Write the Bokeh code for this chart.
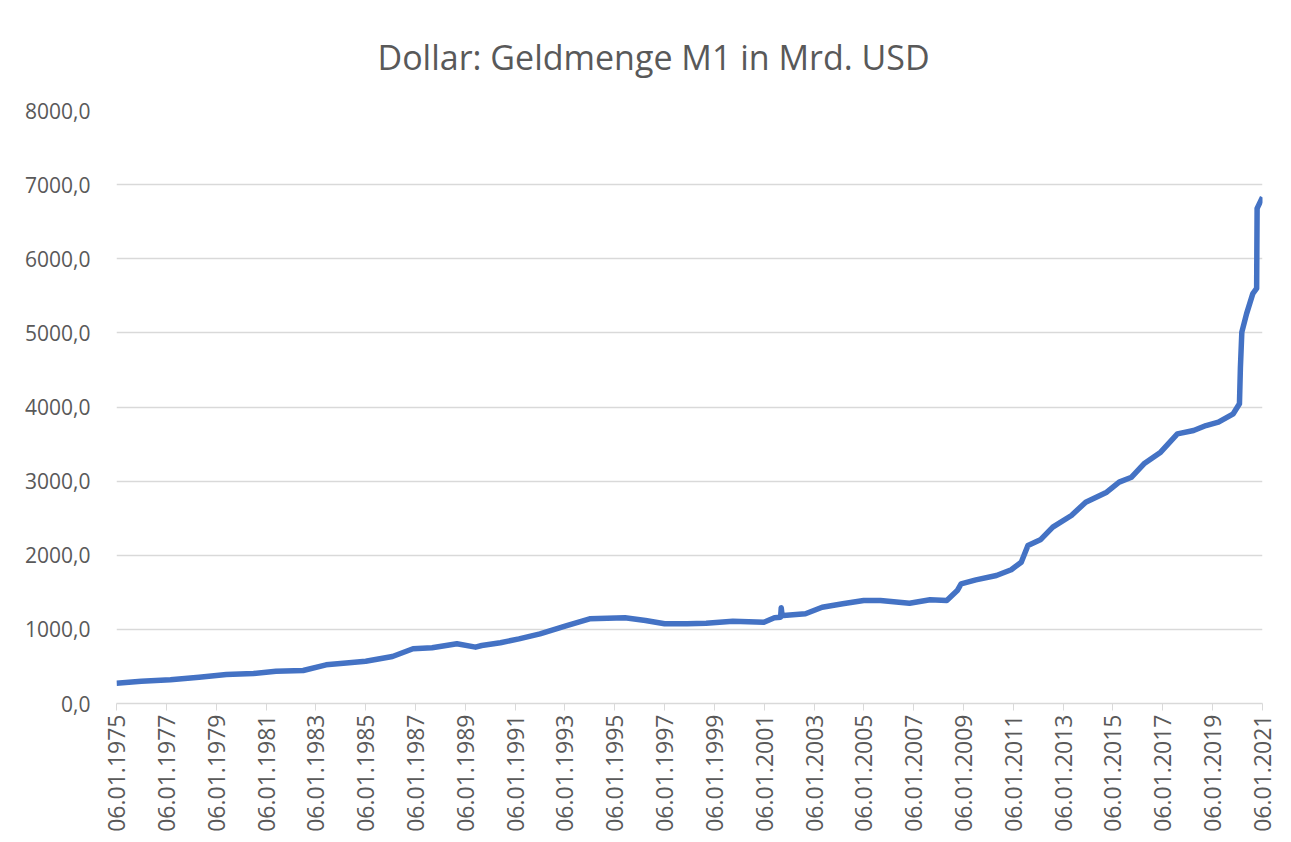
import math
import pandas as pd
from bokeh.plotting import figure
from bokeh.models import Range1d, FixedTicker, DatetimeTickFormatter, Title
from bokeh.embed import file_html
from bokeh.resources import INLINE

# ---- data ----
dates = [
    "1975-01-06", "1976-01-05", "1977-03-07", "1978-05-01", "1979-06-04",
    "1980-07-07", "1981-06-01", "1982-07-05", "1983-06-06", "1984-05-07",
    "1985-01-07", "1986-02-03", "1986-12-01", "1987-09-07", "1988-09-05",
    "1989-06-05", "1989-09-04", "1990-06-04", "1991-03-04", "1992-01-06",
    "1993-02-01", "1994-01-03", "1995-06-05", "1996-04-01", "1997-01-06",
    "1997-12-01", "1998-09-07", "1999-10-04", "2001-01-01", "2001-06-04",
    "2001-09-03", "2001-09-12", "2001-09-24", "2001-10-15", "2002-09-02",
    "2003-05-05", "2004-03-01", "2005-01-03", "2005-09-05", "2006-11-06",
    "2007-09-03", "2008-05-05", "2008-10-06", "2008-12-01", "2009-07-06",
    "2010-05-03", "2010-12-06", "2011-05-02", "2011-08-08", "2012-02-06",
    "2012-08-06", "2013-05-06", "2013-12-02", "2014-10-06", "2015-04-06",
    "2015-10-05", "2016-04-04", "2016-12-05", "2017-08-07", "2018-04-02",
    "2018-10-01", "2019-04-01", "2019-11-04", "2020-02-03", "2020-02-17",
    "2020-03-09", "2020-05-18", "2020-08-17", "2020-10-12", "2020-10-19",
    "2021-01-06",
]
m1_values = [
    274, 301, 320, 355, 391,
    405, 436, 445, 522, 549,
    571, 634, 738, 751, 805,
    760, 782, 820, 872, 940,
    1052, 1142, 1156, 1120, 1075,
    1075, 1084, 1110, 1097, 1156,
    1165, 1291, 1190, 1187, 1210,
    1299, 1345, 1390, 1390, 1353,
    1399, 1390, 1524, 1614, 1668,
    1727, 1804, 1906, 2132, 2208,
    2379, 2536, 2716, 2851, 2986,
    3053, 3234, 3390, 3638, 3683,
    3750, 3795, 3908, 4043, 4530,
    5010, 5260, 5530, 5600, 6680,
    6830,
]
x_tick_dates = [f"{y}-01-06" for y in range(1975, 2022, 2)]
y_ticks = [0, 1000, 2000, 3000, 4000, 5000, 6000, 7000, 8000]
y_tick_labels = ["0,0", "1000,0", "2000,0", "3000,0", "4000,0",
                 "5000,0", "6000,0", "7000,0", "8000,0"]
title_text = "Dollar: Geldmenge M1 in Mrd. USD"

# ---- figure ----
FONT = "Open Sans"
GREY = "#595959"
x = pd.to_datetime(dates)
xt = pd.to_datetime(x_tick_dates)
xt_ms = [t.value / 1e6 for t in xt]

p = figure(
    output_backend="svg", toolbar_location=None,
    x_axis_type="datetime",
    frame_width=1146, frame_height=593,
    min_border_left=116, min_border_right=21,
    min_border_top=110, min_border_bottom=131,
    x_range=Range1d(xt_ms[0], xt_ms[-1]),
    y_range=Range1d(0, 8000),
    background_fill_color="white", border_fill_color="white",
)
p.outline_line_color = None

t = Title(text=title_text, align="left", text_font=FONT,
          text_font_size="34px", text_font_style="normal",
          text_color=GREY, standoff=61, offset=261)
p.add_layout(t, "above")

p.line(x, m1_values, line_color="#4472C4", line_width=5.5, line_join="round")

# y axis
p.yaxis.ticker = FixedTicker(ticks=y_ticks)
p.yaxis.major_label_overrides = {v: s for v, s in zip(y_ticks, y_tick_labels)}
p.yaxis.axis_line_color = None
p.yaxis.major_tick_line_color = None
p.yaxis.minor_tick_line_color = None
p.yaxis.major_label_standoff = 20
p.yaxis.major_label_text_font = FONT
p.yaxis.major_label_text_font_size = "21px"
p.yaxis.major_label_text_color = GREY

# x axis
p.xaxis.ticker = FixedTicker(ticks=xt_ms)
fmt = "%d.%m.%Y"
p.xaxis.formatter = DatetimeTickFormatter(
    milliseconds=fmt, seconds=fmt, minsec=fmt, minutes=fmt, hourmin=fmt,
    hours=fmt, days=fmt, months=fmt, years=fmt)
p.xaxis.major_label_orientation = math.pi / 2
p.xaxis.axis_line_color = "#d9d9d9"
p.xaxis.axis_line_width = 1.5
p.xaxis.major_tick_line_color = "#d9d9d9"
p.xaxis.major_tick_out = 7
p.xaxis.major_tick_in = 0
p.xaxis.minor_tick_line_color = None
p.xaxis.major_label_standoff = 4
p.xaxis.major_label_text_font = FONT
p.xaxis.major_label_text_font_size = "23px"
p.xaxis.major_label_text_color = GREY

p.xgrid.grid_line_color = None
p.ygrid.grid_line_color = "#d9d9d9"
p.ygrid.grid_line_width = 1.5

open("out.html", "w").write(file_html(p, INLINE))
